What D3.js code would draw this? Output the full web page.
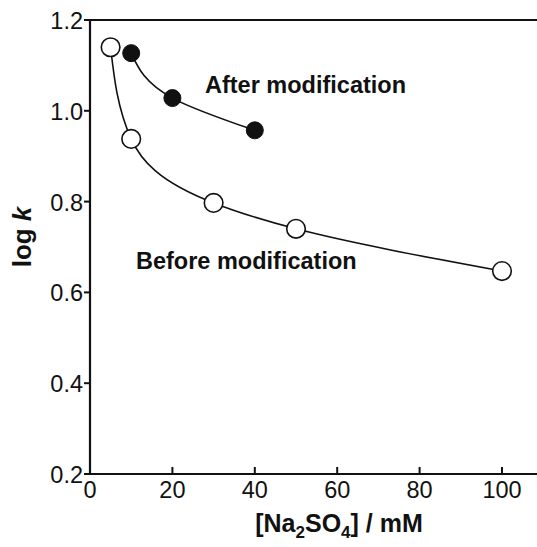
<!DOCTYPE html>
<html>
<head>
<meta charset="utf-8">
<script src="https://cdn.jsdelivr.net/npm/d3@7"></script>
<style>
  body { margin: 0; background: #fff; }
  svg text { font-family: "Liberation Sans", Arial, sans-serif; fill: #111; }
</style>
</head>
<body>
<div id="chart"></div>
<script>
// data
const beforeConc = [5, 10, 30, 50, 100];
const beforeLogK = [1.14, 0.938, 0.797, 0.74, 0.647];
const afterConc = [10, 20, 40];
const afterLogK = [1.127, 1.028, 0.957];
const xTicks = [0, 20, 40, 60, 80, 100];
const yTicks = [0.2, 0.4, 0.6, 0.8, 1.0, 1.2];

const W = 537, H = 547;

const svg = d3.select("#chart").append("svg")
    .attr("width", W)
    .attr("height", H);

// x: 0 -> 90px, 100 -> 502px
const x = d3.scaleLinear().domain([0, 100]).range([90, 502]);
const y = d3.scaleLinear().domain([0.2, 1.2]).range([474, 20]);

// axes lines (left, bottom, top; no right border)
svg.append("line").attr("x1", 90).attr("x2", 90).attr("y1", 19).attr("y2", 475)
    .attr("stroke", "#111").attr("stroke-width", 2.2);
svg.append("line").attr("x1", 89).attr("x2", W).attr("y1", 474).attr("y2", 474)
    .attr("stroke", "#111").attr("stroke-width", 2.2);
svg.append("line").attr("x1", 89).attr("x2", W).attr("y1", 20).attr("y2", 20)
    .attr("stroke", "#111").attr("stroke-width", 2.2);

// y ticks (outward)
const yAxis = svg.append("g");
yAxis.selectAll("line").data(yTicks).enter().append("line")
    .attr("x1", 84).attr("x2", 90)
    .attr("y1", d => y(d)).attr("y2", d => y(d))
    .attr("stroke", "#111").attr("stroke-width", 2);
yAxis.selectAll("text").data(yTicks).enter().append("text")
    .attr("x", 83).attr("y", d => y(d) + 9)
    .attr("text-anchor", "end")
    .style("font-size", "23.5px")
    .text(d => d3.format(".1f")(d));

// x ticks (inward)
const xAxis = svg.append("g");
xAxis.selectAll("line").data(xTicks.filter(d => d > 0)).enter().append("line")
    .attr("x1", d => x(d)).attr("x2", d => x(d))
    .attr("y1", 467).attr("y2", 474)
    .attr("stroke", "#111").attr("stroke-width", 2);
xAxis.selectAll("text").data(xTicks).enter().append("text")
    .attr("x", d => x(d)).attr("y", 498)
    .attr("text-anchor", "middle")
    .style("font-size", "23.5px")
    .text(d => d);

// curves (monotone in y gives the steep drop at low concentration)
const line = d3.line()
    .x(d => x(d[0]))
    .y(d => y(d[1]))
    .curve(d3.curveMonotoneY);

const before = beforeConc.map((c, i) => [c, beforeLogK[i]]);
const after = afterConc.map((c, i) => [c, afterLogK[i]]);

svg.append("path").datum(before)
    .attr("d", line).attr("fill", "none")
    .attr("stroke", "#111").attr("stroke-width", 1.6);
svg.append("path").datum(after)
    .attr("d", line).attr("fill", "none")
    .attr("stroke", "#111").attr("stroke-width", 1.6);

svg.selectAll(".open").data(before).enter().append("circle")
    .attr("class", "open")
    .attr("cx", d => x(d[0])).attr("cy", d => y(d[1]))
    .attr("r", 9.3)
    .attr("fill", "#fff").attr("stroke", "#111").attr("stroke-width", 1.6);
svg.selectAll(".filled").data(after).enter().append("circle")
    .attr("class", "filled")
    .attr("cx", d => x(d[0])).attr("cy", d => y(d[1]))
    .attr("r", 8.5)
    .attr("fill", "#111").attr("stroke", "#111").attr("stroke-width", 1);

// annotations
svg.append("text").attr("x", 205).attr("y", 93)
    .style("font-size", "23.5px").style("font-weight", "bold")
    .text("After modification");
svg.append("text").attr("x", 136).attr("y", 269)
    .style("font-size", "23.5px").style("font-weight", "bold")
    .text("Before modification");

// axis titles
const xt = svg.append("text").attr("x", 339).attr("y", 532)
    .attr("text-anchor", "middle")
    .style("font-size", "25px").style("font-weight", "bold");
xt.append("tspan").text("[Na");
xt.append("tspan").text("2").attr("dy", 6).style("font-size", "17px");
xt.append("tspan").text("SO").attr("dy", -6);
xt.append("tspan").text("4").attr("dy", 6).style("font-size", "17px");
xt.append("tspan").text("] / mM").attr("dy", -6);

const yt = svg.append("text")
    .attr("transform", "translate(31,237) rotate(-90)")
    .attr("text-anchor", "middle")
    .style("font-size", "26px").style("font-weight", "bold");
yt.append("tspan").text("log ");
yt.append("tspan").text("k").style("font-style", "italic");
</script>
</body>
</html>
